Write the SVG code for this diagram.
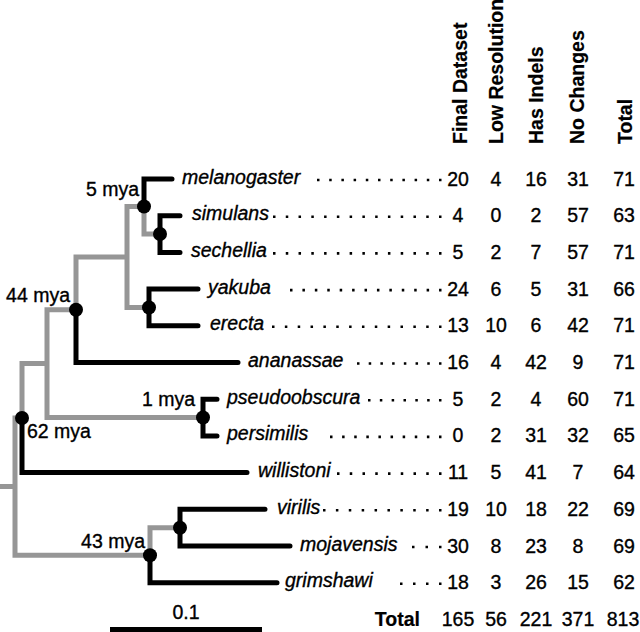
<svg xmlns="http://www.w3.org/2000/svg" width="640" height="632" viewBox="0 0 640 632">
<style>
text{font-family:"Liberation Sans",Arial,Helvetica,sans-serif;font-size:19.5px;fill:#000;stroke:#000;stroke-width:0.35px}
.sp{font-style:italic}
.hd{font-weight:bold;stroke-width:0.2px}
.n{text-anchor:middle}
.g{fill:none;stroke:#969696;stroke-width:5;stroke-linecap:square}
.b{fill:none;stroke:#000;stroke-width:5;stroke-linecap:round;stroke-linejoin:miter}
.lead{stroke:#000;stroke-width:2.6}
.dot{fill:#000}
</style>
<rect width="640" height="632" fill="#fff"/>
<g id="connectors">
<path class="g" d="M0,486.6H15M15,418V555.2M15,418H22M15,555.2H150M22,418V363.6H47M47,309.7V417.5M47,309.7H76M47,417.5H203M76,309.7V257H127M127,206.5V307.5M127,206.5H144M127,307.5H149M144,206.5V234H160M150,555.2V527.7H180"/>
<path class="b" d="M172,179H144V206.5"/>
<path class="b" d="M180,215.7H160V252.4H180"/>
<path class="b" d="M198,289.1H149V325.8H198"/>
<path class="b" d="M76,309.7V362.5H238"/>
<path class="b" d="M217,399.2H203V435.9H217"/>
<path class="b" d="M22,418V472.6H247"/>
<path class="b" d="M265,509.3H180V546H290"/>
<path class="b" d="M150,555.2V582.7H277"/>
</g>
<g id="node-5mya"><circle class="dot" cx="144" cy="206.5" r="7"/><text x="139" y="196" text-anchor="end">5 mya</text></g>
<g id="node-simsec"><circle class="dot" cx="160" cy="234" r="7"/></g>
<g id="node-yakere"><circle class="dot" cx="149" cy="307.5" r="7"/></g>
<g id="node-44mya"><circle class="dot" cx="76" cy="309.7" r="7"/><text x="70" y="302" text-anchor="end">44 mya</text></g>
<g id="node-1mya"><circle class="dot" cx="203" cy="417.5" r="7"/><text x="195" y="406" text-anchor="end">1 mya</text></g>
<g id="node-62mya"><circle class="dot" cx="22" cy="418" r="7"/><text x="27" y="438">62 mya</text></g>
<g id="node-virmoj"><circle class="dot" cx="180" cy="527.7" r="7"/></g>
<g id="node-43mya"><circle class="dot" cx="150" cy="555.2" r="7"/><text x="145" y="548" text-anchor="end">43 mya</text></g>
<g id="headers">
<text class="hd" transform="translate(467,144) rotate(-90)">Final Dataset</text>
<text class="hd" transform="translate(503,144) rotate(-90)">Low Resolution</text>
<text class="hd" transform="translate(543,144) rotate(-90)">Has Indels</text>
<text class="hd" transform="translate(584,144) rotate(-90)">No Changes</text>
<text class="hd" transform="translate(632,144) rotate(-90)">Total</text>
</g>
<g id="melanogaster"><text class="sp" x="182" y="183.5">melanogaster</text><line class="lead" x1="317" y1="180" x2="441.5" y2="180" stroke-dasharray="2.5 9.7"/>
<text class="n" x="458" y="185.5">20</text><text class="n" x="496" y="185.5">4</text><text class="n" x="536" y="185.5">16</text><text class="n" x="578" y="185.5">31</text><text class="n" x="624" y="185.5">71</text></g>
<g id="simulans"><text class="sp" x="192" y="220.2">simulans</text><line class="lead" x1="273" y1="216.7" x2="441.5" y2="216.7" stroke-dasharray="2.5 10.27"/>
<text class="n" x="458" y="222.2">4</text><text class="n" x="496" y="222.2">0</text><text class="n" x="536" y="222.2">2</text><text class="n" x="578" y="222.2">57</text><text class="n" x="624" y="222.2">63</text></g>
<g id="sechellia"><text class="sp" x="191" y="256.9">sechellia</text><line class="lead" x1="273" y1="253.4" x2="441.5" y2="253.4" stroke-dasharray="2.5 10.27"/>
<text class="n" x="458" y="258.9">5</text><text class="n" x="496" y="258.9">2</text><text class="n" x="536" y="258.9">7</text><text class="n" x="578" y="258.9">57</text><text class="n" x="624" y="258.9">71</text></g>
<g id="yakuba"><text class="sp" x="208" y="293.6">yakuba</text><line class="lead" x1="290" y1="290.1" x2="441.5" y2="290.1" stroke-dasharray="2.5 9.92"/>
<text class="n" x="458" y="295.6">24</text><text class="n" x="496" y="295.6">6</text><text class="n" x="536" y="295.6">5</text><text class="n" x="578" y="295.6">31</text><text class="n" x="624" y="295.6">66</text></g>
<g id="erecta"><text class="sp" x="210" y="330.3">erecta</text><line class="lead" x1="272" y1="326.8" x2="441.5" y2="326.8" stroke-dasharray="2.5 10.35"/>
<text class="n" x="458" y="332.3">13</text><text class="n" x="496" y="332.3">10</text><text class="n" x="536" y="332.3">6</text><text class="n" x="578" y="332.3">42</text><text class="n" x="624" y="332.3">71</text></g>
<g id="ananassae"><text class="sp" x="248" y="367">ananassae</text><line class="lead" x1="357" y1="363.5" x2="441.5" y2="363.5" stroke-dasharray="2.5 9.21"/>
<text class="n" x="458" y="369">16</text><text class="n" x="496" y="369">4</text><text class="n" x="536" y="369">42</text><text class="n" x="578" y="369">9</text><text class="n" x="624" y="369">71</text></g>
<g id="pseudoobscura"><text class="sp" x="227" y="403.7">pseudoobscura</text><line class="lead" x1="368" y1="400.2" x2="441.5" y2="400.2" stroke-dasharray="2.5 9.33"/>
<text class="n" x="458" y="405.7">5</text><text class="n" x="496" y="405.7">2</text><text class="n" x="536" y="405.7">4</text><text class="n" x="578" y="405.7">60</text><text class="n" x="624" y="405.7">71</text></g>
<g id="persimilis"><text class="sp" x="227" y="440.4">persimilis</text><line class="lead" x1="330" y1="436.9" x2="441.5" y2="436.9" stroke-dasharray="2.5 9.61"/>
<text class="n" x="458" y="442.4">0</text><text class="n" x="496" y="442.4">2</text><text class="n" x="536" y="442.4">31</text><text class="n" x="578" y="442.4">32</text><text class="n" x="624" y="442.4">65</text></g>
<g id="willistoni"><text class="sp" x="258" y="477.1">willistoni</text><line class="lead" x1="337" y1="473.6" x2="441.5" y2="473.6" stroke-dasharray="2.5 10.25"/>
<text class="n" x="458" y="479.1">11</text><text class="n" x="496" y="479.1">5</text><text class="n" x="536" y="479.1">41</text><text class="n" x="578" y="479.1">7</text><text class="n" x="624" y="479.1">64</text></g>
<g id="virilis"><text class="sp" x="277" y="513.8">virilis</text><line class="lead" x1="323" y1="510.3" x2="441.5" y2="510.3" stroke-dasharray="2.5 10.39"/>
<text class="n" x="458" y="515.8">19</text><text class="n" x="496" y="515.8">10</text><text class="n" x="536" y="515.8">18</text><text class="n" x="578" y="515.8">22</text><text class="n" x="624" y="515.8">69</text></g>
<g id="mojavensis"><text class="sp" x="300" y="550.5">mojavensis</text><line class="lead" x1="412" y1="547" x2="441.5" y2="547" stroke-dasharray="2.5 11"/>
<text class="n" x="458" y="552.5">30</text><text class="n" x="496" y="552.5">8</text><text class="n" x="536" y="552.5">23</text><text class="n" x="578" y="552.5">8</text><text class="n" x="624" y="552.5">69</text></g>
<g id="grimshawi"><text class="sp" x="285" y="587.2">grimshawi</text><line class="lead" x1="400" y1="583.7" x2="441.5" y2="583.7" stroke-dasharray="2.5 10.5"/>
<text class="n" x="458" y="589.2">18</text><text class="n" x="496" y="589.2">3</text><text class="n" x="536" y="589.2">26</text><text class="n" x="578" y="589.2">15</text><text class="n" x="624" y="589.2">62</text></g>
<g id="totals"><text class="hd" x="420" y="626" text-anchor="end">Total</text>
<text class="n" x="458" y="626">165</text><text class="n" x="496" y="626">56</text><text class="n" x="536" y="626">221</text><text class="n" x="578" y="626">371</text><text class="n" x="623" y="626">813</text></g>
<g id="scale"><text class="n" x="186" y="619">0.1</text><line x1="110" y1="629.5" x2="262" y2="629.5" stroke="#000" stroke-width="5"/></g>
</svg>
